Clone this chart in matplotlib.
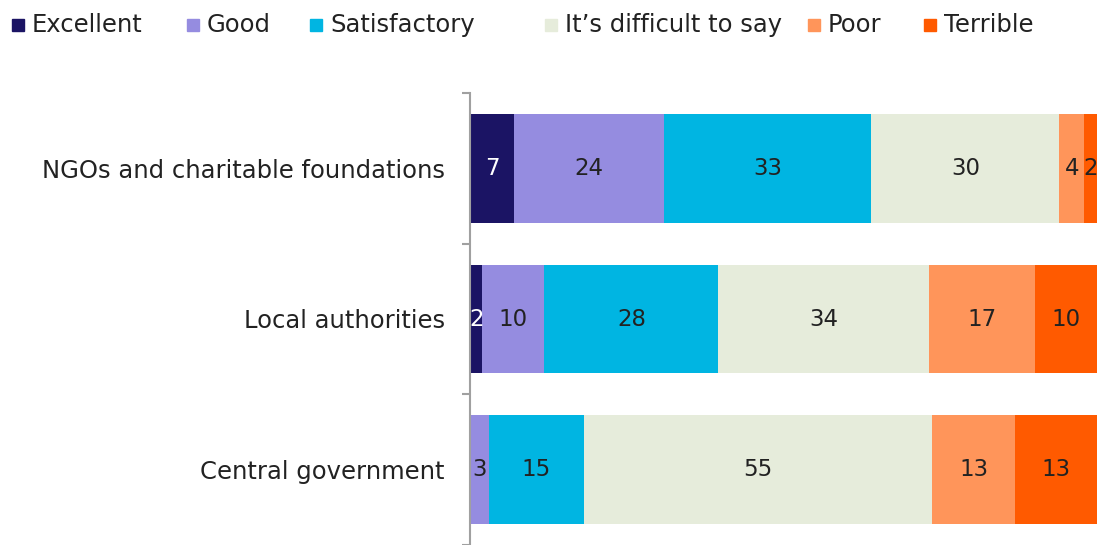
import matplotlib
matplotlib.use("Agg")
import matplotlib.pyplot as plt
from matplotlib.patches import Rectangle
import numpy as np

categories = ["NGOs and charitable foundations", "Local authorities", "Central government"]
series_names = ["Excellent", "Good", "Satisfactory", "It\u2019s difficult to say", "Poor", "Terrible"]
excellent = [7, 2, 0]
good = [24, 10, 3]
satisfactory = [33, 28, 15]
difficult = [30, 34, 55]
poor = [4, 17, 13]
terrible = [2, 10, 13]
colors = ["#1b1464", "#958ce0", "#00b5e2", "#e6ecdb", "#ff955a", "#ff5a00"]
label_colors = ["white", "#222222", "#222222", "#222222", "#222222", "#222222"]

plt.rcParams['font.family'] = ['DejaVu Sans']
W, H = 1103, 545
fig = plt.figure(figsize=(W / 100, H / 100), dpi=100)
ax = fig.add_axes([470 / W, 0, (1097 - 470) / W, 1 - 93 / H])

vals = np.array([excellent, good, satisfactory, difficult, poor, terrible], dtype=float)
shares = vals / vals.sum(axis=0) * 100
y = np.arange(len(categories))
left = np.zeros(len(categories))
for i, name in enumerate(series_names):
    ax.barh(y, shares[i], left=left, height=0.72, color=colors[i], label=name)
    for j in range(len(categories)):
        if vals[i, j] > 0:
            ax.text(left[j] + shares[i, j] / 2, y[j], f"{int(vals[i, j])}",
                    ha="center", va="center", fontsize=16.5, color=label_colors[i])
    left += shares[i]

ax.set_xlim(0, 100)
ax.set_ylim(2.474, -0.5)
ax.set_yticks(y)
ax.set_yticklabels(categories, fontsize=17.5, color="#222222")
ax.set_yticks([-0.5, 0.5, 1.5, 2.5], minor=True)
ax.tick_params(axis="y", which="major", length=0, pad=18)
ax.tick_params(axis="y", which="minor", length=6, width=1.5, color="#a0a0a0")
ax.set_xticks([])
for s in ["top", "right", "bottom"]:
    ax.spines[s].set_visible(False)
ax.spines["left"].set_color("#a0a0a0")
ax.spines["left"].set_linewidth(1.5)

# legend (manual layout)
sq_x = [12, 187, 310, 545, 808, 924]
ly = 25
for name, c, sx in zip(series_names, colors, sq_x):
    fig.patches.append(Rectangle((sx / W, 1 - (ly + 6) / H), 12 / W, 12 / H,
                                 transform=fig.transFigure, color=c))
    fig.text((sx + 20) / W, 1 - ly / H, name, ha="left", va="center",
             fontsize=17.5, color="#222222")

fig.savefig("out.png", dpi=100)
